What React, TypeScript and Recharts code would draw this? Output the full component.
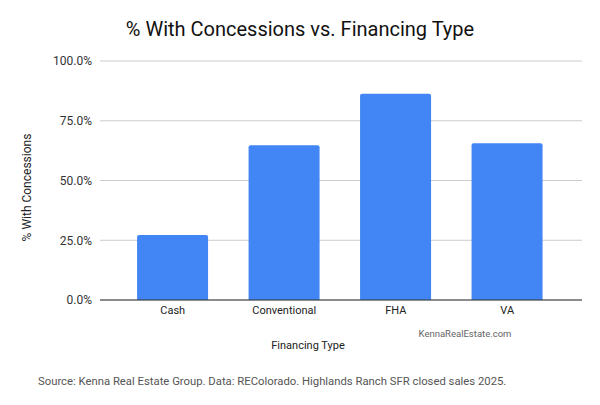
import { BarChart, Bar, XAxis, YAxis, CartesianGrid } from 'recharts';

const categories = ['Cash', 'Conventional', 'FHA', 'VA'];
const shareWithConcessions = [0.272, 0.648, 0.863, 0.656];
const yTicks = [0, 0.25, 0.5, 0.75, 1];

const data = categories.map((name, i) => ({ name, share: shareWithConcessions[i] }));

const font = 'Roboto, "Noto Sans", sans-serif';

const pct = (v: number) => `${(v * 100).toFixed(1)}%`;

export default function App() {
  return (
    <div style={{ position: 'absolute', left: 0, top: 0, width: 600, height: 405, background: '#fff', fontFamily: font }}>
      <div style={{ position: 'absolute', left: 0, top: 17, width: 600, textAlign: 'center', fontSize: 20, lineHeight: '24px', color: '#111' }}>
        % With Concessions vs. Financing Type
      </div>

      <BarChart
        width={600}
        height={405}
        data={data}
        margin={{ top: 61, right: 18, bottom: 0, left: 0 }}
        barCategoryGap="18%"
      >
        <CartesianGrid vertical={false} stroke="#cccccc" />
        <XAxis
          dataKey="name"
          height={105}
          padding={{ left: 17, right: 19 }}
          tickLine={false}
          tickMargin={0}
          axisLine={{ stroke: '#333' }}
          tick={{ fontSize: 11, fill: '#222', fontFamily: font }}
          label={{
            content: () => (
              <text x={308} y={349} textAnchor="middle" fontSize={11} fill="#222" fontFamily={font}>
                Financing Type
              </text>
            ),
          }}
        />
        <YAxis
          width={100}
          domain={[0, 1]}
          ticks={yTicks}
          tickFormatter={pct}
          axisLine={false}
          tickLine={false}
          tick={{ fontSize: 12, fill: '#333', fontFamily: font }}
          label={{
            content: ({ viewBox }: any) => {
              const cy = viewBox.y + viewBox.height / 2 + 7;
              return (
                <text
                  x={31}
                  y={cy}
                  transform={`rotate(-90 31 ${cy})`}
                  textAnchor="middle"
                  fontSize={12}
                  fill="#222"
                  fontFamily={font}
                >
                  % With Concessions
                </text>
              );
            },
          }}
        />
        <Bar dataKey="share" fill="#4285F4" radius={[2, 2, 0, 0]} isAnimationActive={false} />
      </BarChart>

      <div style={{ position: 'absolute', left: 400, top: 328, width: 130, textAlign: 'center', fontSize: 9.5, color: '#666' }}>
        KennaRealEstate.com
      </div>
      <div style={{ position: 'absolute', left: 38, top: 375, fontSize: 11.3, color: '#555', whiteSpace: 'nowrap' }}>
        Source: Kenna Real Estate Group. Data: REColorado. Highlands Ranch SFR closed sales 2025.
      </div>
    </div>
  );
}
